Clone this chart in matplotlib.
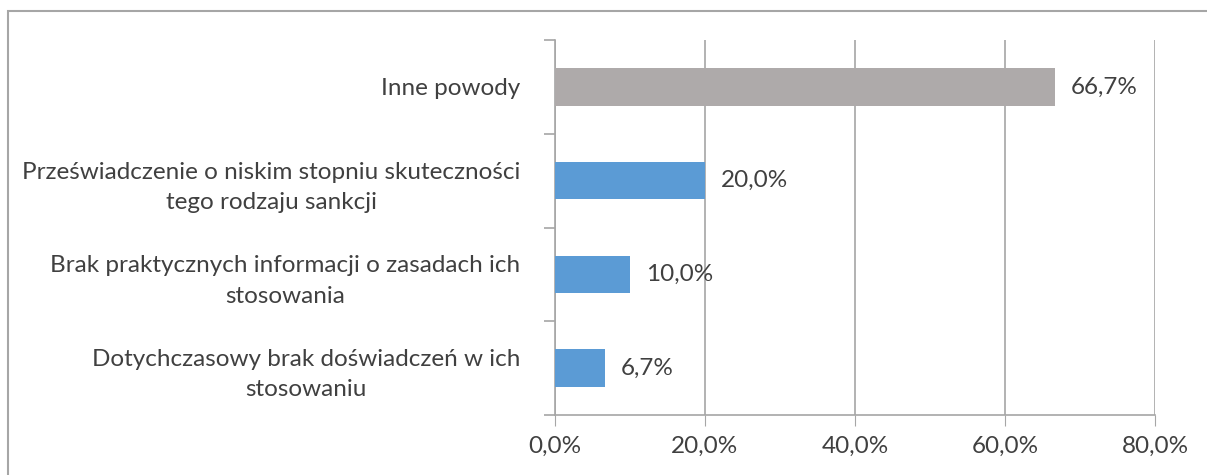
import matplotlib
matplotlib.use('Agg')
import matplotlib.pyplot as plt
from matplotlib.patches import Rectangle
import numpy as np

plt.rcParams['font.family'] = ['Lato', 'DejaVu Sans']

# Categories from bottom to top, values in percent
categories = [
    "Dotychczasowy brak doświadczeń w ich\nstosowaniu",
    "Brak praktycznych informacji o zasadach ich\nstosowania",
    "Przeświadczenie o niskim stopniu skuteczności\ntego rodzaju sankcji",
    "Inne powody",
]
values = [6.7, 10.0, 20.0, 66.7]
colors = ["#5B9BD5", "#5B9BD5", "#5B9BD5", "#AEAAAA"]
xticks = [0, 20, 40, 60, 80]

text_color = "#404040"
grid_color = "#A6A6A6"
fs = 17.5

fig = plt.figure(figsize=(12.07, 4.75), dpi=100)
ax = fig.add_axes([555 / 1207, 1 - 415 / 475, 600 / 1207, 375 / 475])

# outer chart frame (runs off the right and bottom edges)
fig.patches.append(Rectangle((8 / 1207, -0.05), 1.1, 1 - 11 / 475 + 0.05,
                             transform=fig.transFigure, fill=False,
                             edgecolor="#A6A6A6", linewidth=1.5))

y = np.arange(len(categories))
ax.barh(y, values, height=0.4, color=colors, zorder=3)

for yi, v in zip(y, values):
    ax.text(v + 2.1, yi, f"{v:.1f}%".replace(".", ","), va="center", ha="left",
            fontsize=fs, color=text_color, zorder=4)

ax.set_xlim(0, 80)
ax.set_ylim(-0.5, len(categories) - 0.5)
ax.set_xticks(xticks)
ax.set_xticklabels([f"{t:.1f}%".replace(".", ",") for t in xticks],
                   fontsize=fs, color=text_color)
ax.tick_params(axis="x", length=8, color=grid_color, pad=7)
ax.xaxis.grid(True, color=grid_color, linewidth=1.2, zorder=0)

ax.set_yticks(y)
ax.set_yticklabels(categories, fontsize=fs, color=text_color, ma="center",
                   linespacing=1.55)
ax.tick_params(axis="y", which="major", length=0, pad=25)
ax.set_yticks(np.arange(-0.5, len(categories)), minor=True)
ax.tick_params(axis="y", which="minor", length=8, color=grid_color, width=1.2)

for s in ["top", "right"]:
    ax.spines[s].set_visible(False)
for s in ["left", "bottom"]:
    ax.spines[s].set_color(grid_color)
    ax.spines[s].set_linewidth(1.2)

fig.savefig("out.png", dpi=100)
